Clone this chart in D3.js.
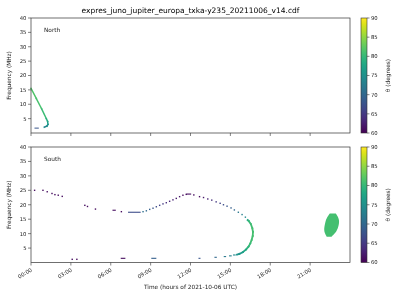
<!DOCTYPE html>
<html><head><meta charset="utf-8">
<script src="https://cdn.jsdelivr.net/npm/d3@7"></script>
<style>body{margin:0;background:#fff}svg{display:block;font-family:"DejaVu Sans",sans-serif}</style>
</head><body>
<svg id="c" width="400" height="300"></svg>
<script>
// ---------- data ----------
const titleText = "expres_juno_jupiter_europa_txka-y235_20211006_v14.cdf";
const xTickHours = [0, 3, 6, 9, 12, 15, 18, 21];
const xTickLabels = ["00:00","03:00","06:00","09:00","12:00","15:00","18:00","21:00"];
const yTicks = [5, 10, 15, 20, 25, 30, 35, 40];
const cbTicks = [60, 65, 70, 75, 80, 85, 90];

// North hemisphere: continuous track (time h, freq MHz, theta deg)
const nLineT  = [0.0, 0.4, 0.8, 1.15, 1.25, 1.28, 1.2, 1.0];
const nLineF  = [15.5, 12.0, 8.4, 5.0, 4.0, 3.0, 2.4, 2.0];
const nLineTh = [82, 81.5, 81, 80, 78, 76, 75, 73];
const nDashT  = [0.3, 0.55];
const nDashF  = [1.7, 1.7];
const nDashTh = [68, 68];

// South hemisphere: isolated points
const sDotT  = [0.27,0.9,1.22,1.58,1.8,2.05,2.35,4.05,4.25,4.85,6.8,
                8.43,8.68,8.93,9.18,9.43,9.68,9.93,10.18,10.43,10.68,10.93,11.18,11.43,11.68,
                12.25,12.68,12.98,13.3,13.6,13.93,14.23,14.48,14.75,15.05,15.3,15.6,15.88,16.13,
                3.1,3.45];
const sDotF  = [25.0,25.0,24.5,23.9,23.5,23.3,22.9,19.8,19.4,18.5,17.6,
                17.6,17.9,18.4,18.8,19.3,19.8,20.3,20.7,21.2,21.7,22.2,22.8,23.3,23.6,
                23.4,22.8,22.5,22.0,21.6,21.0,20.5,20.0,19.5,18.9,18.2,17.4,16.6,15.7,
                1.1,1.1];
const sDotTh = [61,61,61,61,61,61,61,61,61,61,61,
                71,70,69,68,67,66,65,64,63,63,62,62,61,61,
                61,61,62,63,64,65,66,67,68,69,70,72,73,74,
                61,61];

// South hemisphere: short dashes (start/end time, freq, theta)
const sDashT0 = [6.13, 7.3, 11.7, 6.75, 9.05, 12.6, 13.8, 14.5, 14.9, 15.2];
const sDashT1 = [6.38, 8.25, 12.05, 7.1, 9.43, 12.75, 13.98, 14.68, 15.1, 15.4];
const sDashF  = [18.1, 17.4, 23.7, 1.45, 1.45, 1.45, 1.8, 2.05, 2.3, 2.6];
const sDashTh = [61, 67, 61, 61, 69, 68, 70, 72, 73, 74];

// South hemisphere: continuous "nose" track
const sNoseT  = [16.3,16.38,16.54,16.65,16.7,16.68,16.6,16.5,16.37,16.18,15.94,15.68,15.5];
const sNoseF  = [14.7,14.4,13.3,11.9,10.6,9.2,7.8,6.6,5.5,4.5,3.6,3.0,2.75];
const sNoseTh = [76,80,80.5,81,81,81,81,80.5,80,79,77,76,75];

// South hemisphere: emission patch (freq rows, time extent)
const blobF  = [8.9, 10.1, 11.3, 12.4, 13.6, 14.7, 15.9, 17.0];
const blobT0 = [22.25,22.1,22.05,22.07,22.13,22.18,22.3,22.48];
const blobT1 = [22.6,22.88,23.03,23.12,23.18,23.18,23.1,22.93];
const blobTh = 81;

// ---------- layout ----------
const svg = d3.select("#c");
const L = 31, R = 350;
const panels = [{top:18, bot:133, name:"North"},{top:147, bot:262.5, name:"South"}];
const x = d3.scaleLinear().domain([0, 24]).range([L, R]);
const color = d3.scaleSequential(d3.interpolateViridis).domain([60, 90]);
const axisCol = "#333";

const defs = svg.append("defs");
const grad = defs.append("linearGradient").attr("id","vir").attr("x1",0).attr("x2",0).attr("y1",1).attr("y2",0);
d3.range(0,1.0001,0.05).forEach(s => grad.append("stop").attr("offset", s).attr("stop-color", d3.interpolateViridis(s)));
defs.append("filter").attr("id","gray").attr("x","-10%").attr("y","-10%").attr("width","120%").attr("height","120%")
  .append("feColorMatrix").attr("type","saturate").attr("values","0");

const gt = svg.append("g").attr("filter","url(#gray)");   // all text, rendered in greyscale

gt.append("text").attr("x", (L+R)/2).attr("y", 13).attr("text-anchor","middle")
  .attr("font-size", 7.5).attr("fill","#000").text(titleText);

panels.forEach((p, i) => {
  const y = d3.scaleLinear().domain([0, 40]).range([p.bot, p.top]);
  p.y = y;
  yTicks.forEach(v => {
    svg.append("line").attr("x1", L-3).attr("x2", L).attr("y1", y(v)).attr("y2", y(v)).attr("stroke", axisCol).attr("stroke-width",0.6);
    gt.append("text").attr("x", L-4.5).attr("y", y(v)+1.9).attr("text-anchor","end").attr("font-size",5.3).attr("fill","#222").text(v);
  });
  xTickHours.forEach((h, k) => {
    svg.append("line").attr("x1", x(h)).attr("x2", x(h)).attr("y1", p.bot).attr("y2", p.bot+3).attr("stroke", axisCol).attr("stroke-width",0.6);
    if (i === 1) {
      gt.append("text").attr("transform", `translate(${x(h)+1.5},${p.bot+8.5}) rotate(-30)`)
        .attr("text-anchor","end").attr("font-size",5.3).attr("fill","#222").text(xTickLabels[k]);
    }
  });
  gt.append("text").attr("transform", `translate(11,${(p.top+p.bot)/2}) rotate(-90)`).attr("text-anchor","middle")
    .attr("font-size",5.8).attr("fill","#222").text("Frequency (MHz)");
  gt.append("text").attr("x", 44).attr("y", p.top+14).attr("font-size",5.8).attr("fill","#222").text(p.name);

  const cy = d3.scaleLinear().domain([60,90]).range([p.bot, p.top]);
  svg.append("rect").attr("x",361).attr("y",p.top).attr("width",6).attr("height",p.bot-p.top).attr("fill","url(#vir)")
    .attr("stroke",axisCol).attr("stroke-width",0.6);
  cbTicks.forEach(v => {
    svg.append("line").attr("x1",367).attr("x2",369.5).attr("y1",cy(v)).attr("y2",cy(v)).attr("stroke",axisCol).attr("stroke-width",0.6);
    gt.append("text").attr("x",371).attr("y",cy(v)+1.9).attr("font-size",5.3).attr("fill","#222").text(v);
  });
  gt.append("text").attr("transform", `translate(390,${(p.top+p.bot)/2}) rotate(-90)`).attr("text-anchor","middle")
    .attr("font-size",5.8).attr("fill","#222").text("θ (degrees)");
});

gt.append("text").attr("x", (L+R)/2).attr("y", 289).attr("text-anchor","middle").attr("font-size",5.8).attr("fill","#222")
  .text("Time (hours of 2021-10-06 UTC)");

// ---------- marks ----------
function track(g, y, T, F, Th, w) {
  for (let k = 0; k < T.length-1; k++) {
    g.append("line").attr("x1", x(T[k])).attr("y1", y(F[k])).attr("x2", x(T[k+1])).attr("y2", y(F[k+1]))
      .attr("stroke", color((Th[k]+Th[k+1])/2)).attr("stroke-width", w).attr("stroke-linecap","square");
  }
}
const gN = svg.append("g"), gS = svg.append("g");
const yN = panels[0].y, yS = panels[1].y;
track(gN, yN, nLineT, nLineF, nLineTh, 1.5);
track(gN, yN, nDashT, nDashF, nDashTh, 1.0);

sDotT.forEach((t, k) => {
  gS.append("rect").attr("x", x(t)-0.7).attr("y", yS(sDotF[k])-0.7).attr("width",1.4).attr("height",1.4).attr("fill", color(sDotTh[k]));
});
sDashT0.forEach((t, k) => {
  gS.append("line").attr("x1", x(t)).attr("x2", x(sDashT1[k])).attr("y1", yS(sDashF[k])).attr("y2", yS(sDashF[k]))
    .attr("stroke", color(sDashTh[k])).attr("stroke-width", 1.1);
});
track(gS, yS, sNoseT, sNoseF, sNoseTh, 1.8);

const blob = blobF.map((f,k)=>({f, t0:blobT0[k], t1:blobT1[k]}));
gS.append("path").datum(blob)
  .attr("d", d3.area().y(d=>yS(d.f)).x0(d=>x(d.t0)).x1(d=>x(d.t1)).curve(d3.curveBasis))
  .attr("fill", color(blobTh));

panels.forEach(p => {
  svg.append("rect").attr("x", L).attr("y", p.top).attr("width", R-L).attr("height", p.bot-p.top)
    .attr("fill","none").attr("stroke",axisCol).attr("stroke-width",0.7);
});
</script>
</body></html>
